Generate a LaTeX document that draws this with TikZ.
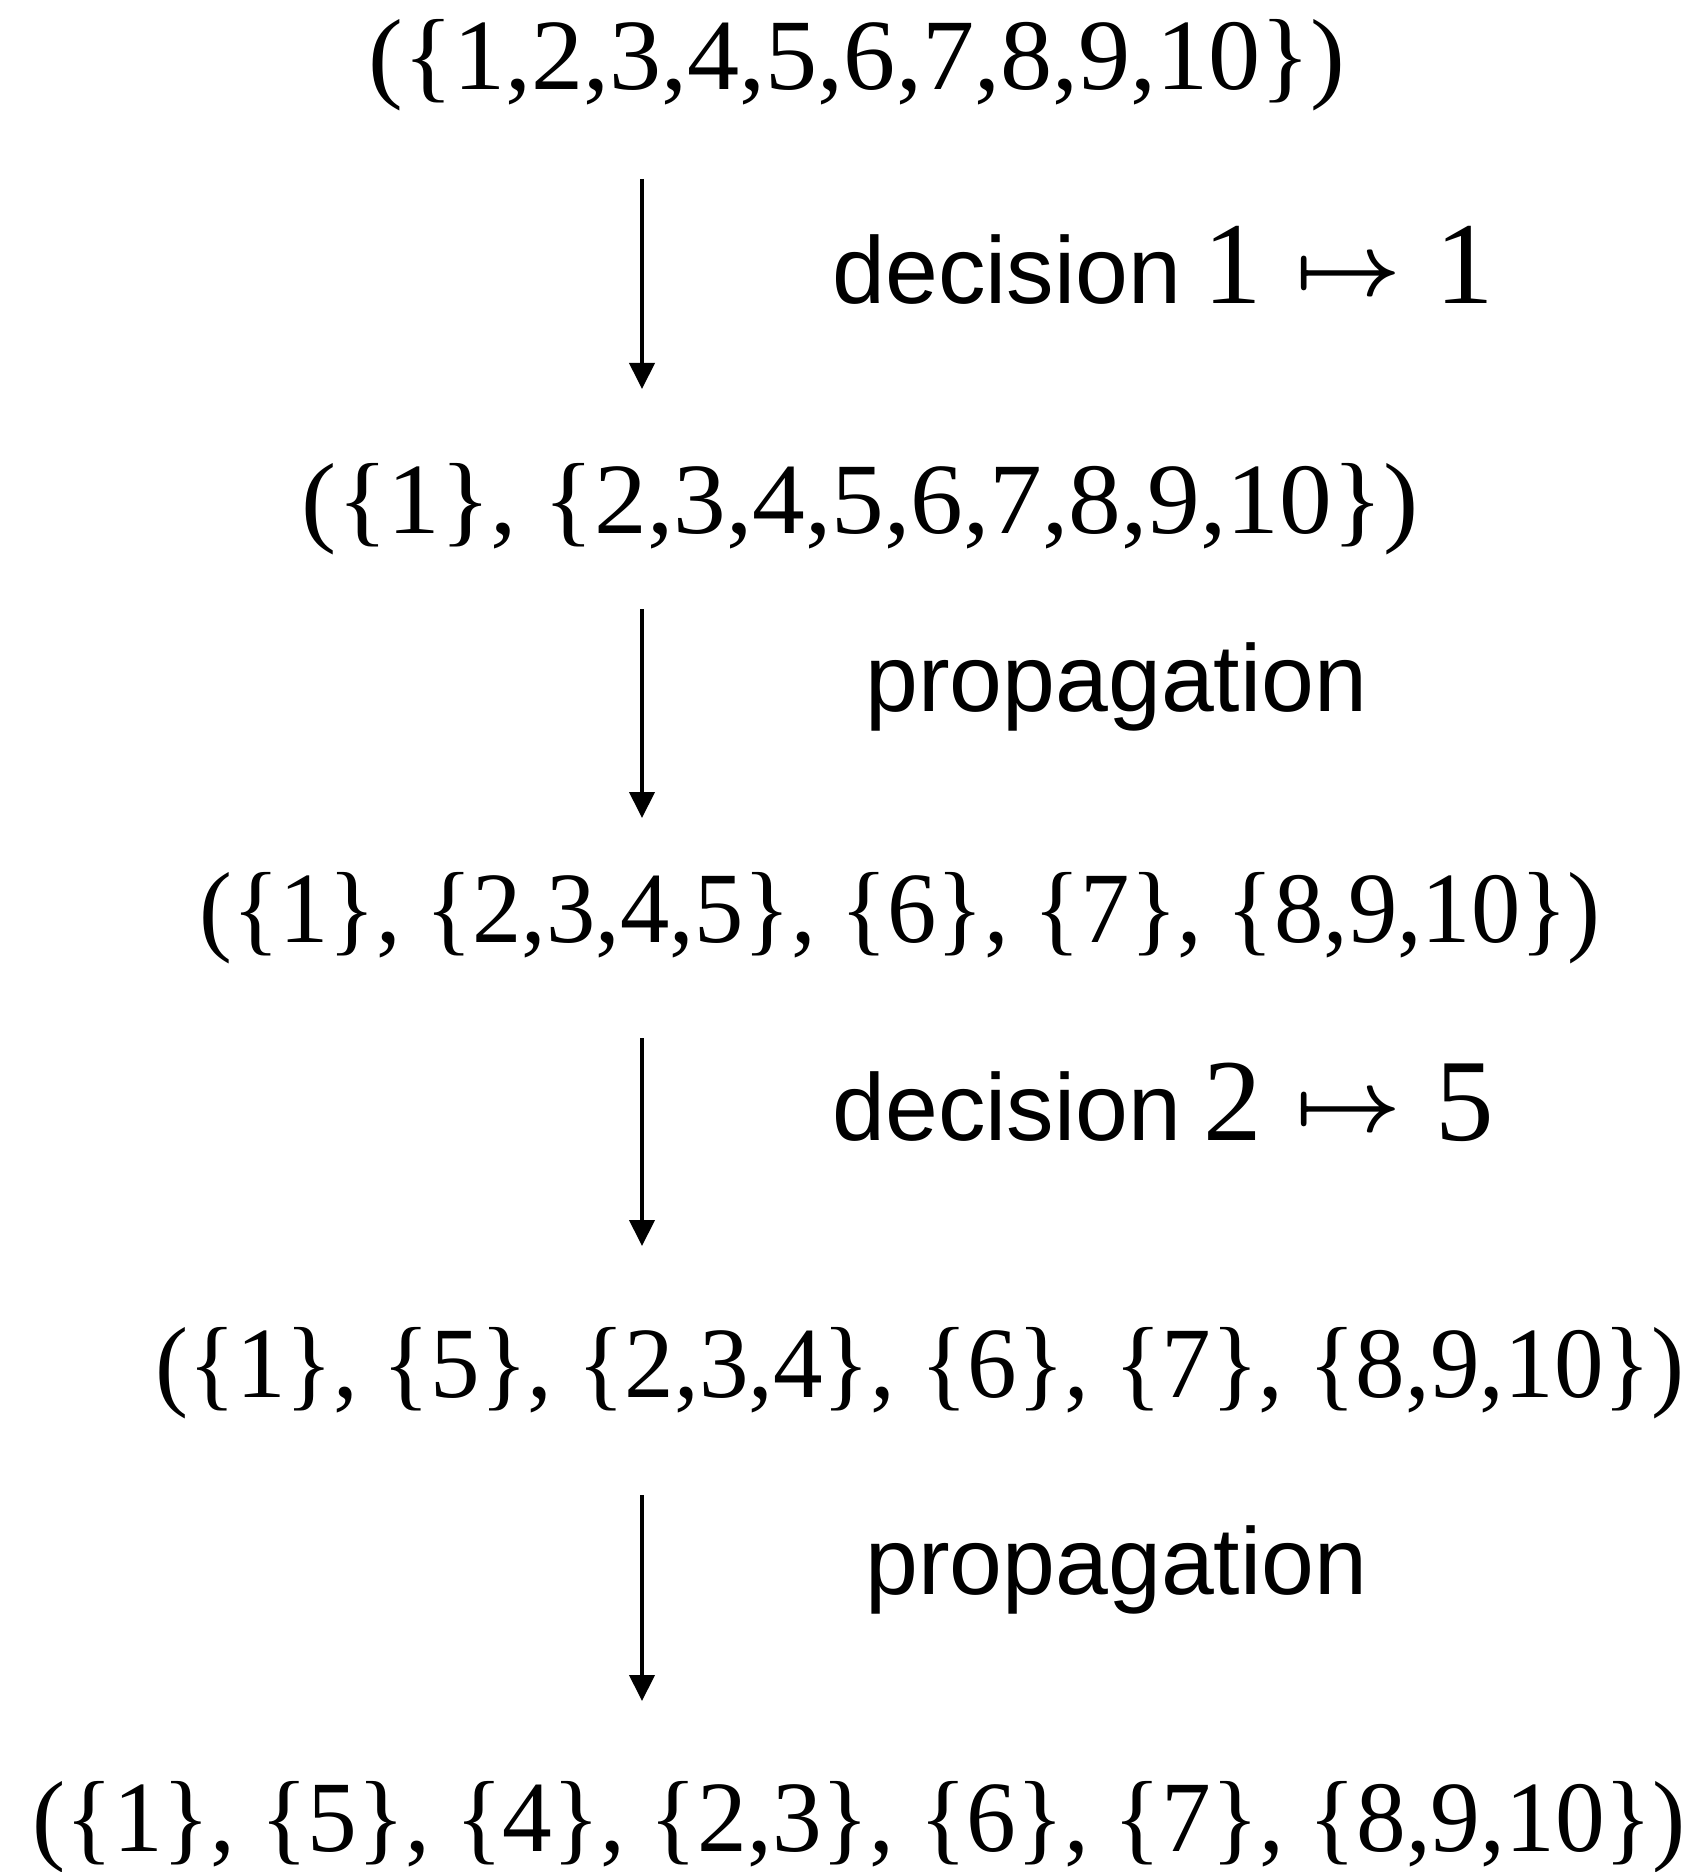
\documentclass[tikz,border=0pt]{standalone}
\usepackage{graphicx}
\usepackage{fontspec}
\setmainfont{Liberation Serif}
\newfontfamily\labelfont{Liberation Sans}
\usetikzlibrary{arrows.meta}

% pieces of the step labels: sans words, serif digits, maps-to sign
\newcommand\sansword[1]{{\labelfont\fontsize{47.5pt}{57pt}\selectfont #1}}
\newcommand\bigmapsto{\raisebox{4.5pt}{\fontsize{10pt}{12pt}\selectfont\boldmath\scalebox{4.6}[4.4]{$\mapsto$}}}

\tikzset{
  setline/.style={inner sep=0pt, anchor=base, font=\fontsize{50.5pt}{60pt}\selectfont},
  decisionlabel/.style={inner sep=0pt, anchor=base west, font=\rmfamily\fontsize{58.5pt}{70pt}\selectfont},
  steplabel/.style={inner sep=0pt, anchor=base west, font=\labelfont\fontsize{47.5pt}{57pt}\selectfont},
  flow/.style={line width=2pt, -{Triangle[length=13pt,width=12.5pt]}},
}

\begin{document}
\begin{tikzpicture}[x=0.5pt,y=-0.5pt]
\useasboundingbox (0,0) rectangle (1701,1872);

% ordered partitions after each step
\node[setline] (s1) at (857,90)   {\scalebox{1.032}[1]{(\{1,2,3,4,5,6,7,8,9,10\})}};
\node[setline] (s2) at (860,533)  {\scalebox{1.044}[1]{(\{1\}, \{2,3,4,5,6,7,8,9,10\})}};
\node[setline] (s3) at (900,942)  {\scalebox{0.976}[1]{(\{1\}, \{2,3,4,5\}, \{6\}, \{7\}, \{8,9,10\})}};
\node[setline] (s4) at (920,1397) {\scalebox{0.981}[1]{(\{1\}, \{5\}, \{2,3,4\}, \{6\}, \{7\}, \{8,9,10\})}};
\node[setline] (s5) at (859,1851) {\scalebox{0.984}[1]{(\{1\}, \{5\}, \{4\}, \{2,3\}, \{6\}, \{7\}, \{8,9,10\})}};

% step labels
\node[decisionlabel] (d1) at (832,304)
  {\makebox[185.5pt][l]{\sansword{decision}}\makebox[46pt][l]{1}\makebox[70pt][l]{\bigmapsto}1};
\node[steplabel] (p1) at (865,711) {propagation};
\node[decisionlabel] (d2) at (832,1140)
  {\makebox[185.5pt][l]{\sansword{decision}}\makebox[46pt][l]{2}\makebox[70pt][l]{\bigmapsto}5};
\node[steplabel] (p2) at (865,1594) {propagation};

% arrows between the partitions
\coordinate (a1top) at (642,179);  \coordinate (a1tip) at (642,389);
\coordinate (a2top) at (642,609);  \coordinate (a2tip) at (642,818);
\coordinate (a3top) at (642,1038); \coordinate (a3tip) at (642,1246);
\coordinate (a4top) at (642,1495); \coordinate (a4tip) at (642,1701);
\draw[flow] (a1top) -- (a1tip);
\draw[flow] (a2top) -- (a2tip);
\draw[flow] (a3top) -- (a3tip);
\draw[flow] (a4top) -- (a4tip);
\end{tikzpicture}
\end{document}
